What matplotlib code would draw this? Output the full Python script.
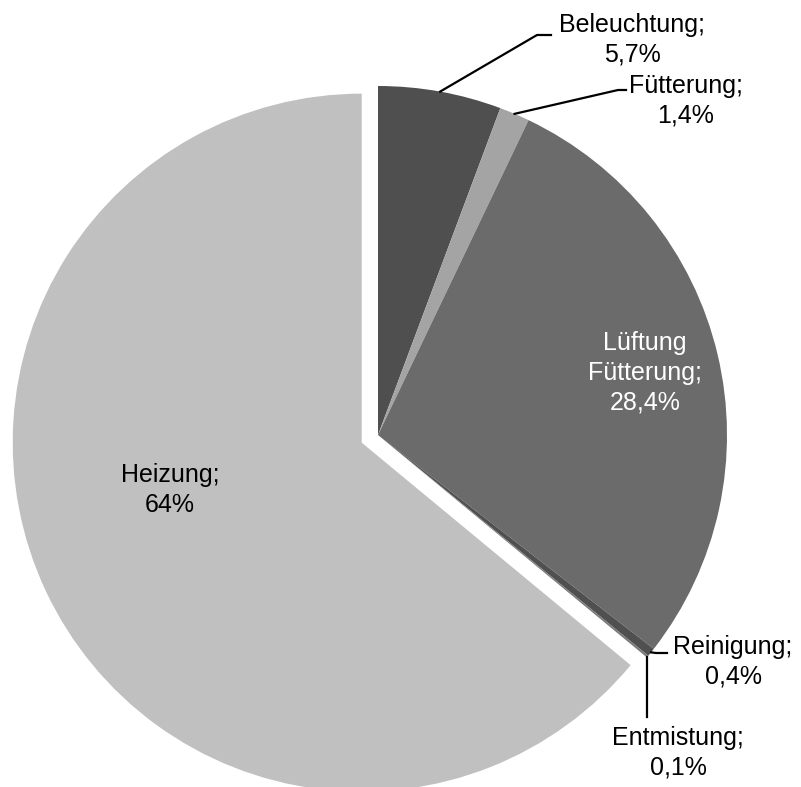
import numpy as np
import matplotlib
matplotlib.use("Agg")
from matplotlib import pyplot as plt

# Energieverbrauch nach Bereich (%)
labels = ["Beleuchtung", "Fütterung", "Lüftung\nFütterung", "Reinigung", "Entmistung", "Heizung"]
values = [5.7, 1.4, 28.4, 0.4, 0.1, 64.0]
value_text = ["5,7%", "1,4%", "28,4%", "0,4%", "0,1%", "64%"]
colors = ["#4f4f4f", "#a4a4a4", "#6b6b6b", "#505050", "#7a7a7a", "#c0c0c0"]

W, H = 801, 787
plt.rcParams['font.family'] = ['Liberation Sans', 'DejaVu Sans']

fig = plt.figure(figsize=(W / 100, H / 100), dpi=100)
ax = fig.add_axes([0, 0, 1, 1])

# pie drawn in pixel units, explode is an absolute offset here
cx, cy, r = 378, H - 435, 349
explode = [0, 0, 0, 0, 0, 18]
wedges, _ = ax.pie(values, colors=colors, explode=explode, startangle=90,
                   counterclock=False, center=(cx, cy), radius=r,
                   wedgeprops=dict(linewidth=0), frame=True)
ax.set_xlim(0, W)
ax.set_ylim(0, H)
ax.set_aspect("equal")
ax.axis("off")


def edge_point(w):
    a = np.deg2rad((w.theta1 + w.theta2) / 2)
    x0, y0 = w.center
    return x0 + w.r * np.cos(a), y0 + w.r * np.sin(a)


fs = 18
def label(i, x, y, color="black"):
    ax.text(x, H - y, labels[i] + ";\n" + value_text[i], ha="center", va="center",
            fontsize=fs, color=color, linespacing=1.3)

# Beleuchtung
x0, y0 = edge_point(wedges[0])
ax.plot([x0, 537, 551], [y0, H - 35, H - 35], color="black", lw=1.6)
label(0, 632, 40)

# Fütterung
x0, y0 = edge_point(wedges[1])
ax.plot([x0, 618, 626], [y0, H - 90, H - 90], color="black", lw=1.6)
label(1, 686, 101)

# Lüftung Fütterung
label(2, 645, 373, color="white")

# Reinigung
x0, y0 = edge_point(wedges[3])
ax.plot([x0, 656, 667], [y0, H - 653, H - 653], color="black", lw=1.6)
label(3, 733, 662)

# Entmistung
x0, y0 = edge_point(wedges[4])
ax.plot([647, 647], [y0, H - 717], color="black", lw=1.6)
label(4, 678, 753)

# Heizung
label(5, 170, 490)

fig.savefig("out.png", dpi=100, facecolor="white")
